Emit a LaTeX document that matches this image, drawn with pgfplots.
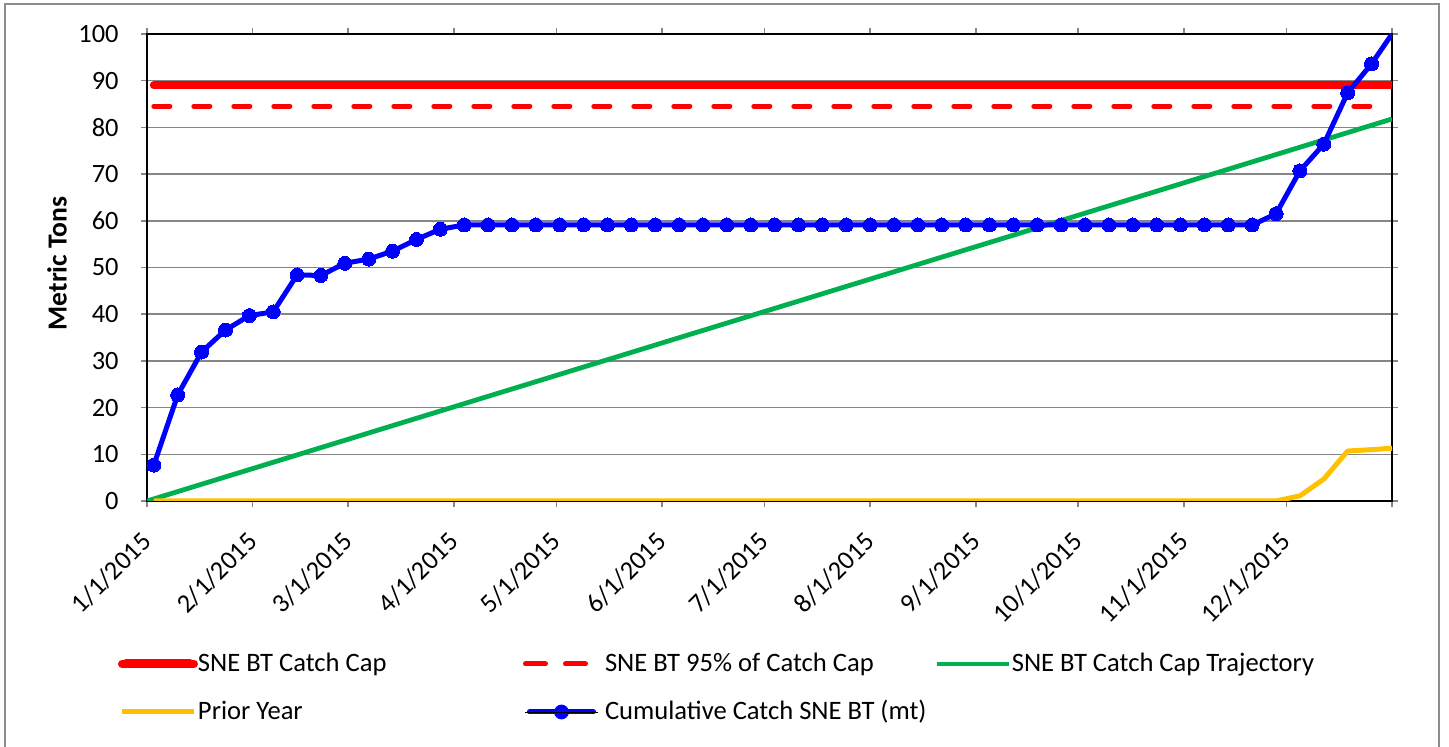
\documentclass[border=0pt]{standalone}
\usepackage{fontspec}
\setmainfont{Carlito}
\usepackage{pgfplots}
\usepackage{pgfplotstable}
\pgfplotsset{compat=1.18}
\definecolor{capred}{RGB}{255,0,0}
\definecolor{trajgreen}{RGB}{0,176,80}
\definecolor{prioryellow}{RGB}{255,192,0}
\definecolor{cumblue}{RGB}{0,0,255}
\definecolor{gridgrey}{RGB}{134,134,134}
\definecolor{framegrey}{RGB}{140,140,140}

\pgfplotstableread{
day val
2 7.7
9 22.7
16 31.9
23 36.6
30 39.7
37 40.5
44 48.4
51 48.3
58 50.9
65 51.8
72 53.5
79 56.0
86 58.2
93 59.1
100 59.1
107 59.1
114 59.1
121 59.1
128 59.1
135 59.1
142 59.1
149 59.1
156 59.1
163 59.1
170 59.1
177 59.1
184 59.1
191 59.1
198 59.1
205 59.1
212 59.1
219 59.1
226 59.1
233 59.1
240 59.1
247 59.1
254 59.1
261 59.1
268 59.1
275 59.1
282 59.1
289 59.1
296 59.1
303 59.1
310 59.1
317 59.1
324 59.1
331 61.5
338 70.7
345 76.4
352 87.4
359 93.6
365 100.0
}\cumtable

\begin{document}
\begin{tikzpicture}
\begin{axis}[
  scale only axis, width=622.5pt, height=233.5pt,
  xmin=0, xmax=365, ymin=0, ymax=100,
  xtick={0,31,59,90,120,151,181,212,243,273,304,334,365},
  xticklabels={1/1/2015,2/1/2015,3/1/2015,4/1/2015,5/1/2015,6/1/2015,7/1/2015,8/1/2015,9/1/2015,10/1/2015,11/1/2015,12/1/2015,{}},
  ytick={0,10,...,100},
  /pgf/number format/assume math mode=true,
  ymajorgrids, major grid style={gridgrey, line width=0.75pt},
  axis line style={black, line width=0.75pt},
  tick align=outside,
  xtick style={gridgrey, line width=0.75pt},
  ytick style={gridgrey, line width=0.75pt},
  major tick length=3pt,
  x tick label style={font=\fontsize{13.2}{15}\selectfont, yshift=-15pt, xshift=0pt, rotate=45, anchor=east, inner sep=0pt},
  y tick label style={font=\fontsize{13.2}{15}\selectfont, inner sep=0pt, anchor=east, xshift=-11pt},
  ylabel={Metric Tons},
  every axis y label/.style={at={(axis description cs:0,0.5)}, xshift=-45pt, yshift=2pt, rotate=90, anchor=center, font=\bfseries\fontsize{13.8}{15}\selectfont},
  legend columns=3,
  legend style={at={(0,0)}, anchor=north west, xshift=-14.5pt, yshift=-75.5pt,
    draw=none, fill=none, inner sep=0pt, outer sep=0pt, column sep=0pt, row sep=12pt,
    font=\fontsize{13.3}{15}\selectfont,
    nodes={inner sep=0pt, text height=10pt, text depth=2pt, anchor=west}},
  legend cell align=left,
]
\addplot[capred, line width=4pt, line cap=round,
  legend image code/.code={\draw[capred, line width=4.5pt, line cap=round] (2pt,0pt) -- (34pt,0pt); \path (0pt,0pt) -- (36pt,0pt);}]
  coordinates {(2,89) (365,89)};
\addlegendentry{\makebox[162.5pt][l]{SNE BT Catch Cap}}

\addplot[capred, line width=2.5pt, line cap=round, dash pattern=on 8pt off 12pt,
  legend image code/.code={\draw[capred, line width=2.5pt, line cap=round] (2pt,0pt) -- (12pt,0pt) (22pt,0pt) -- (32pt,0pt); \path (0pt,0pt) -- (36pt,0pt);}]
  coordinates {(2,84.55) (365,84.55)};
\addlegendentry{\makebox[167.5pt][l]{\hspace{2.5pt}SNE BT 95\% of Catch Cap}}

\addplot[trajgreen, line width=2.4pt,
  legend image code/.code={\draw[trajgreen, line width=2.4pt, line cap=round] (2pt,0pt) -- (34pt,0pt); \path (0pt,0pt) -- (36pt,0pt);}]
  coordinates {(0,0) (365,81.8)};
\addlegendentry{SNE BT Catch Cap Trajectory}

\addplot[prioryellow, line width=2.5pt, line join=round,
  legend image code/.code={\draw[prioryellow, line width=2.5pt, line cap=round] (2pt,0pt) -- (34pt,0pt); \path (0pt,0pt) -- (36pt,0pt);}]
  coordinates {(2,0) (331,0) (338,1.1) (345,4.7) (352,10.7) (359,11.0) (365,11.3)};
\addlegendentry{\makebox[162.5pt][l]{Prior Year}}

\addplot[cumblue, line width=2.5pt, line join=round, forget plot] table[x=day, y=val] {\cumtable};
\addplot[only marks, mark=*, mark size=3.5pt, mark options={fill=cumblue, draw=cumblue, line width=0pt},
  restrict x to domain=0:360,
  legend image code/.code={\draw[cumblue, line width=2.5pt, line cap=round] (2pt,0pt) -- (34pt,0pt); \fill[cumblue] (18pt,0pt) circle (3.5pt); \path (0pt,0pt) -- (36pt,0pt);}]
  table[x=day, y=val] {\cumtable};
\addlegendentry{\makebox[167.5pt][l]{\hspace{2.5pt}Cumulative Catch SNE BT (mt)}}
\end{axis}
\draw[framegrey, line width=0.75pt] (-71pt,248.5pt) rectangle (646pt,-140pt);
\pgfresetboundingbox
\path[use as bounding box] (-73.5pt,-123pt) rectangle (651pt,250.5pt);
\end{tikzpicture}
\end{document}
